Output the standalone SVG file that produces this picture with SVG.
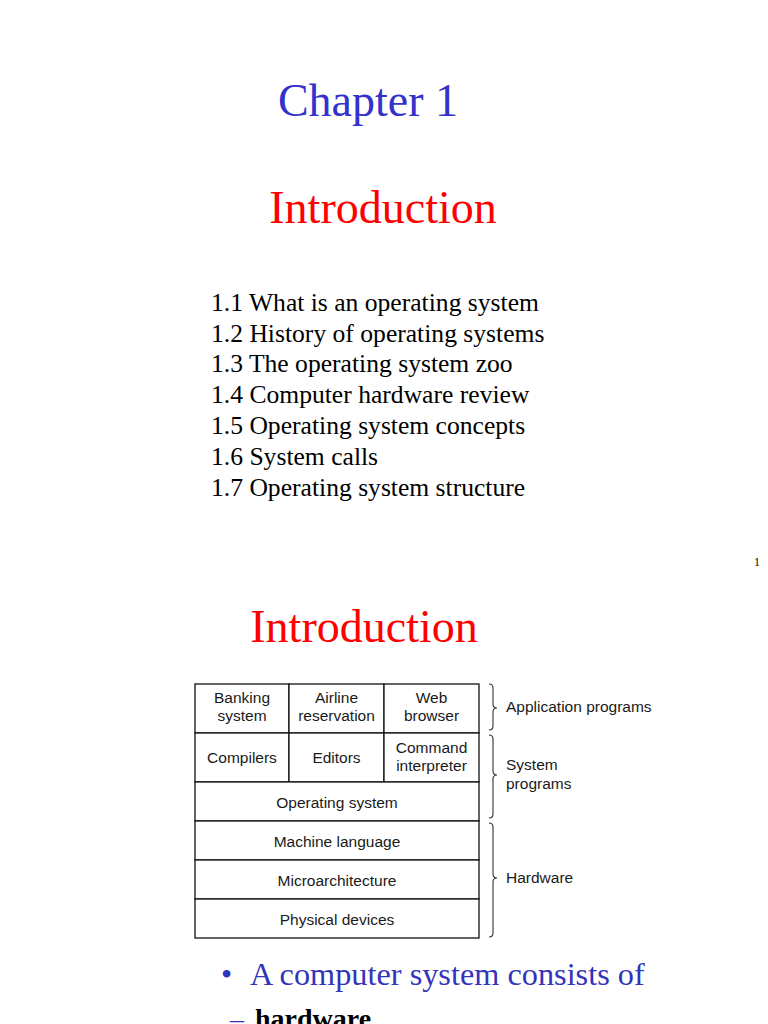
<svg xmlns="http://www.w3.org/2000/svg" width="768" height="1024" viewBox="0 0 768 1024">
<style>
.serif{font-family:"Liberation Serif","Times New Roman",serif}
.sans{font-family:"Liberation Sans",Arial,sans-serif;font-size:15.5px;fill:#1a1a1a}
.title{font-size:46px}
.list{font-size:25.6px;fill:#000}
.cell{fill:#fff;stroke:#111;stroke-width:1.3}
.brace{fill:none;stroke:#333;stroke-width:1.1}
</style>
<rect width="768" height="1024" fill="#fff"/>
<text class="serif title" x="368" y="116" text-anchor="middle" fill="#3333cc">Chapter 1</text>
<text class="serif title" x="383" y="223" text-anchor="middle" fill="#ff0000">Introduction</text>
<g class="serif list">
<text x="211" y="311">1.1 What is an operating system</text>
<text x="211" y="342">1.2 History of operating systems</text>
<text x="211" y="372">1.3 The operating system zoo</text>
<text x="211" y="403">1.4 Computer hardware review</text>
<text x="211" y="434">1.5 Operating system concepts</text>
<text x="211" y="465">1.6 System calls</text>
<text x="211" y="496">1.7 Operating system structure</text>
</g>
<text class="serif" x="757" y="566" font-size="12" text-anchor="middle" fill="#000">1</text>
<text class="serif title" x="364" y="642" text-anchor="middle" fill="#ff0000">Introduction</text>
<g id="banking"><rect class="cell" x="195" y="684" width="94" height="49"/><text class="sans" x="242" y="703" text-anchor="middle">Banking</text><text class="sans" x="242" y="721" text-anchor="middle">system</text></g>
<g id="airline"><rect class="cell" x="289" y="684" width="95" height="49"/><text class="sans" x="336.5" y="703" text-anchor="middle">Airline</text><text class="sans" x="336.5" y="721" text-anchor="middle">reservation</text></g>
<g id="web"><rect class="cell" x="384" y="684" width="95" height="49"/><text class="sans" x="431.5" y="703" text-anchor="middle">Web</text><text class="sans" x="431.5" y="721" text-anchor="middle">browser</text></g>
<g id="compilers"><rect class="cell" x="195" y="733" width="94" height="49"/><text class="sans" x="242" y="763" text-anchor="middle">Compilers</text></g>
<g id="editors"><rect class="cell" x="289" y="733" width="95" height="49"/><text class="sans" x="336.5" y="763" text-anchor="middle">Editors</text></g>
<g id="command"><rect class="cell" x="384" y="733" width="95" height="49"/><text class="sans" x="431.5" y="753" text-anchor="middle">Command</text><text class="sans" x="431.5" y="771" text-anchor="middle">interpreter</text></g>
<g id="os"><rect class="cell" x="195" y="782" width="284" height="39"/><text class="sans" x="337" y="808" text-anchor="middle">Operating system</text></g>
<g id="machine"><rect class="cell" x="195" y="821" width="284" height="39"/><text class="sans" x="337" y="847" text-anchor="middle">Machine language</text></g>
<g id="micro"><rect class="cell" x="195" y="860" width="284" height="39"/><text class="sans" x="337" y="886" text-anchor="middle">Microarchitecture</text></g>
<g id="physical"><rect class="cell" x="195" y="899" width="284" height="39"/><text class="sans" x="337" y="925" text-anchor="middle">Physical devices</text></g>
<g id="braces">
<path class="brace" d="M489,684 Q493,684 493,688 L493,704 Q493,708 497,708 Q493,708 493,712 L493,726 Q493,730 489,730"/>
<path class="brace" d="M489,735 Q493,735 493,739 L493,771 Q493,775 497,775 Q493,775 493,779 L493,814 Q493,818 489,818"/>
<path class="brace" d="M489,823 Q493,823 493,827 L493,874 Q493,878 497,878 Q493,878 493,882 L493,933 Q493,937 489,937"/>
</g>
<g id="labels">
<text class="sans" x="506" y="712">Application programs</text>
<text class="sans" x="506" y="770">System</text>
<text class="sans" x="506" y="789">programs</text>
<text class="sans" x="506" y="883">Hardware</text>
</g>
<text class="serif" x="221" y="985" font-size="32" fill="#3333bb">•</text>
<text class="serif" x="250" y="985" font-size="32.3" fill="#3333bb">A computer system consists of</text>
<text class="serif" x="230" y="1028" font-size="28" fill="#3333bb">–</text>
<text class="serif" x="255" y="1028" font-size="28" font-weight="bold" fill="#000">hardware</text>
</svg>
